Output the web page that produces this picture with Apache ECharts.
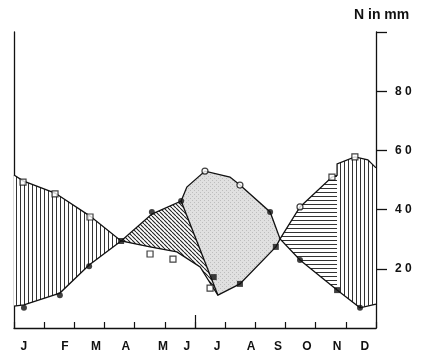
<!DOCTYPE html>
<html><head><meta charset="utf-8">
<script src="https://cdn.jsdelivr.net/npm/echarts@6/dist/echarts.min.js"></script>
<style>html,body{margin:0;padding:0;background:#fff}#c{width:437px;height:358px}</style>
</head><body><div id="c"></div>
<script>
// month labels and where they sit along the year (month units)
const months = ['J','F','M','A','M','J','J','A','S','O','N','D'];
const monthLabelPos = [0.33, 1.69, 2.72, 3.71, 4.94, 5.73, 6.73, 7.86, 8.75, 9.71, 10.71, 11.63];
// y tick values
const yLabelValues = [20, 40, 60, 80];
// boundary curve of series A (open markers, high in winter): [month position, mm]
const curveA = [[0,51.7],[0.30,49.7],[1.36,45.6],[2.52,37.8],[3.55,29.4],[4.51,27.4],[5.40,25.7],[6.17,20.6],[6.50,15.2],[6.76,11.1],[7.49,14.9],[8.68,27.4],[8.82,30.1],[9.48,40.9],[10.54,51.0],[10.71,51.6],[10.71,55.4],[11.30,57.8],[11.73,56.8],[12,54.1]];
// boundary curve of series B (filled markers, high in summer)
const curveB = [[0,7.4],[0.33,7.8],[1.52,11.8],[2.49,21.3],[3.55,29.4],[4.57,38.5],[5.54,42.9],[5.73,47.6],[6.33,53.0],[7.16,51.0],[7.49,48.3],[8.49,39.2],[8.82,30.1],[9.48,23.0],[10.71,12.8],[11.47,6.8],[12,8.1]];
// markers
const openSquares = [[0.30,49.3],[1.36,45.3],[2.52,37.5],[4.51,25.0],[5.27,23.3],[6.50,13.5],[10.54,51.0],[11.30,57.8]];
const openCircles = [[6.33,53.0],[7.49,48.3],[9.48,40.9]];
const filledCircles = [[0.33,6.8],[1.52,11.1],[2.49,20.9],[4.57,39.2],[5.54,42.9],[8.49,39.2],[9.48,23.0],[11.47,6.8]];
const filledSquares = [[3.55,29.4],[6.62,17.2],[7.49,14.9],[8.68,27.4],[10.71,12.8]];

function pat(w, h, draw) {
  const c = document.createElement('canvas'); c.width = w; c.height = h;
  const g = c.getContext('2d'); g.fillStyle = '#fff'; g.fillRect(0, 0, w, h); draw(g);
  return { image: c, repeat: 'repeat' };
}
const vHatch = pat(4, 4, g => { g.fillStyle = '#333'; g.fillRect(0, 0, 1, 4); });
const hHatch = pat(4, 4, g => { g.fillStyle = '#333'; g.fillRect(0, 0, 4, 1); });
const dHatch = pat(4, 4, g => {
  g.strokeStyle = '#222'; g.lineWidth = 1.1; g.beginPath();
  [-4, 0, 4].forEach(k => { g.moveTo(k, 0); g.lineTo(k + 4, 4); });
  g.stroke();
});
const stipple = pat(4, 4, g => {
  g.fillStyle = '#e0e0e0'; g.fillRect(0, 0, 4, 4);
  g.fillStyle = '#bdbdbd'; g.fillRect(0, 0, 1, 1); g.fillRect(2, 2, 1, 1);
});

const chart = echarts.init(document.getElementById('c'));
const FONT = '"Liberation Sans", Arial, sans-serif';
const axisCol = '#111';

function renderItem(params, api) {
  const P = pts => pts.map(p => api.coord(p));
  const regions = [
    [curveA.slice(0, 5).concat(curveB.slice(0, 5).reverse()), vHatch],
    [curveB.slice(4, 7).concat(curveA.slice(4, 10).reverse()), dHatch],
    [curveB.slice(6, 13).concat(curveA.slice(9, 13).reverse()), stipple],
    [curveA.slice(12, 16).concat(curveB.slice(12, 15).reverse()), hHatch],
    [curveA.slice(16).concat(curveB.slice(14).reverse()), vHatch]
  ];
  const children = regions.map(r => ({ type: 'polygon', shape: { points: P(r[0]) }, style: { fill: r[1], stroke: null } }));
  const lineStyle = { fill: null, stroke: '#111', lineWidth: 1.3 };
  children.push({ type: 'polyline', shape: { points: P(curveA) }, style: lineStyle });
  children.push({ type: 'polyline', shape: { points: P(curveB) }, style: lineStyle });
  children.push({ type: 'polyline', shape: { points: P([curveB[6], curveA[9]]) }, style: lineStyle });
  return { type: 'group', children };
}

// plot area: y=0 at 328px, y=100 at 32px; tick grid spans 20..100 (20 sits at 268.8px)
chart.setOption({
  animation: false,
  backgroundColor: '#fff',
  grid: [
    { left: 14, right: 61, top: 32, bottom: 30, containLabel: false },
    { left: 14, right: 61, top: 32, bottom: 89.2, containLabel: false }
  ],
  xAxis: [
    { type: 'value', gridIndex: 0, min: 0, max: 12, interval: 1, position: 'bottom',
      axisLine: { show: true, onZero: false, lineStyle: { color: axisCol, width: 1.3 } },
      axisTick: { show: true, inside: true, length: 6, lineStyle: { color: axisCol, width: 1.2 } },
      axisLabel: { show: false }, splitLine: { show: false } },
    { type: 'value', gridIndex: 0, min: 0, max: 12, position: 'bottom',
      axisLine: { show: false, onZero: false },
      axisTick: { show: true, inside: true, length: 13, customValues: [6], lineStyle: { color: axisCol, width: 1.2 } },
      axisLabel: { show: false }, splitLine: { show: false } },
    { type: 'value', gridIndex: 0, min: 0, max: 12, position: 'bottom',
      axisLine: { show: false, onZero: false }, axisTick: { show: false }, splitLine: { show: false },
      axisLabel: { show: true, margin: 13, customValues: monthLabelPos, color: '#111', fontWeight: 'bold', fontSize: 12, fontFamily: FONT,
        formatter: v => months[monthLabelPos.indexOf(v)] } },
    { type: 'value', gridIndex: 1, min: 0, max: 12, show: false, axisLine: { onZero: false } }
  ],
  yAxis: [
    { type: 'value', gridIndex: 0, min: 0, max: 100, interval: 20, position: 'right',
      axisLine: { show: true, onZero: false, lineStyle: { color: axisCol, width: 1.3 } },
      axisTick: { show: false },
      axisLabel: { show: true, margin: 19, customValues: yLabelValues, color: '#111', fontWeight: 'bold', fontSize: 12, fontFamily: FONT,
        formatter: v => String(v).split('').join(' ') },
      splitLine: { show: false } },
    { type: 'value', gridIndex: 0, min: 0, max: 100, position: 'left',
      axisLine: { show: true, onZero: false, lineStyle: { color: axisCol, width: 1.3 } },
      axisTick: { show: false }, axisLabel: { show: false }, splitLine: { show: false } },
    { type: 'value', gridIndex: 1, min: 20, max: 100, interval: 20, position: 'right',
      axisLine: { show: false, onZero: false },
      axisTick: { show: true, inside: false, length: 11, lineStyle: { color: axisCol, width: 1.3 } },
      axisLabel: { show: false }, splitLine: { show: false } }
  ],
  graphic: [
    { type: 'text', left: 354, top: 8, style: { text: 'N in mm', font: 'bold 14px ' + FONT, fill: '#111' } }
  ],
  series: [
    { type: 'custom', xAxisIndex: 0, yAxisIndex: 0, data: [0], renderItem, z: 1, silent: true },
    { type: 'scatter', xAxisIndex: 0, yAxisIndex: 0, data: openSquares, symbol: 'rect', symbolSize: 6, z: 3,
      itemStyle: { color: '#fff', borderColor: '#111', borderWidth: 1.2 } },
    { type: 'scatter', xAxisIndex: 0, yAxisIndex: 0, data: openCircles, symbol: 'circle', symbolSize: 6, z: 3,
      itemStyle: { color: '#fff', borderColor: '#111', borderWidth: 1.2 } },
    { type: 'scatter', xAxisIndex: 0, yAxisIndex: 0, data: filledCircles, symbol: 'circle', symbolSize: 6, z: 3,
      itemStyle: { color: '#111' } },
    { type: 'scatter', xAxisIndex: 0, yAxisIndex: 0, data: filledSquares, symbol: 'rect', symbolSize: 6, z: 3,
      itemStyle: { color: '#111' } }
  ]
});
</script></body></html>
